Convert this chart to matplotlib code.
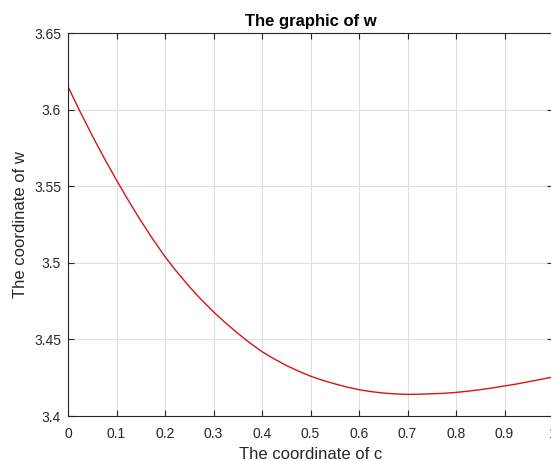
import matplotlib
matplotlib.use("Agg")
import matplotlib.pyplot as plt

c_vals = [0.0, 0.025, 0.05, 0.075, 0.1, 0.125, 0.15, 0.175, 0.2, 0.225,
          0.25, 0.275, 0.3, 0.325, 0.35, 0.375, 0.4, 0.425, 0.45, 0.475,
          0.5, 0.525, 0.55, 0.575, 0.6, 0.625, 0.65, 0.675, 0.7, 0.725,
          0.75, 0.775, 0.8, 0.825, 0.85, 0.875, 0.9, 0.925, 0.95, 0.975, 1.0]
w_vals = [3.6150, 3.5986, 3.5830, 3.5681, 3.5540, 3.5404, 3.5275, 3.5154, 3.5040, 3.4939,
          3.4845, 3.4759, 3.4680, 3.4607, 3.4540, 3.4477, 3.4420, 3.4373, 3.4330, 3.4293,
          3.4260, 3.4233, 3.4210, 3.4189, 3.4172, 3.4159, 3.4150, 3.4144, 3.4141, 3.4142,
          3.4145, 3.4148, 3.4154, 3.4162, 3.4172, 3.4183, 3.4196, 3.4209, 3.4224, 3.4239, 3.4255]
x_ticks = [0, 0.1, 0.2, 0.3, 0.4, 0.5, 0.6, 0.7, 0.8, 0.9, 1]
x_labels = ["0", "0.1", "0.2", "0.3", "0.4", "0.5", "0.6", "0.7", "0.8", "0.9", "1"]
y_ticks = [3.4, 3.45, 3.5, 3.55, 3.6, 3.65]
y_labels = ["3.4", "3.45", "3.5", "3.55", "3.6", "3.65"]

plt.rcParams['font.family'] = ['Liberation Sans', 'DejaVu Sans']
fig = plt.figure(figsize=(5.51, 4.61), dpi=100)
ax = fig.add_axes([68/551, 45/461, 485/551, 383/461])
ax.plot(c_vals, w_vals, color=(0.85, 0.08, 0.08), lw=1.0)
ax.set_xlim(0, 1)
ax.set_ylim(3.4, 3.65)
ax.set_xticks(x_ticks)
ax.set_xticklabels(x_labels)
ax.set_yticks(y_ticks)
ax.set_yticklabels(y_labels)
dark = (0.15, 0.15, 0.15)
ax.grid(True, color=(0.88, 0.88, 0.88), lw=0.8)
ax.set_axisbelow(True)
for s in ax.spines.values():
    s.set_color(dark)
    s.set_linewidth(0.8)
ax.tick_params(direction='in', length=4, width=0.8, colors=dark, labelsize=10,
               top=True, right=True)
ax.tick_params(axis='x', pad=8)
ax.tick_params(axis='y', pad=5)
ax.set_xlabel("The coordinate of c", fontsize=12, color=dark, labelpad=4)
ax.set_ylabel("The coordinate of w", fontsize=12, color=dark, labelpad=4)
ax.set_title("The graphic of w", fontsize=12, fontweight='bold', pad=5)
fig.savefig("out.png", dpi=100)
